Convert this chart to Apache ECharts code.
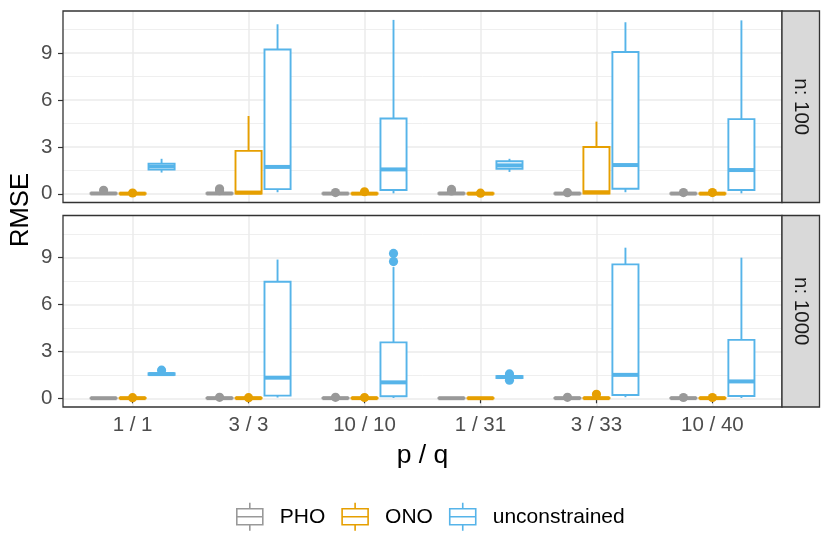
<!DOCTYPE html>
<html><head><meta charset="utf-8">
<script src="https://cdn.jsdelivr.net/npm/echarts@6/dist/echarts.min.js"></script>
<style>html,body{margin:0;padding:0;background:#fff}#chart{width:830px;height:554px}</style>
</head><body><div id="chart"></div>
<script>
// ---------- data ----------
const categories = ['1 / 1', '3 / 3', '10 / 10', '1 / 31', '3 / 33', '10 / 40'];
const methods = ['PHO', 'ONO', 'unconstrained'];
const panelLabels = ['n: 100', 'n: 1000'];
const yTicks = [0, 3, 6, 9];
const yMinorTicks = [1.5, 4.5, 7.5, 10.5];
const xTicks = [1, 2, 3, 4, 5, 6];

// box stats per category: [lower whisker, Q1, median, Q3, upper whisker]
const pho100 = [
  [0, 0.005, 0.02, 0.04, 0.09],
  [0, 0.005, 0.02, 0.04, 0.09],
  [0, 0.004, 0.015, 0.03, 0.07],
  [0, 0.005, 0.02, 0.04, 0.09],
  [0, 0.004, 0.015, 0.03, 0.07],
  [0, 0.004, 0.015, 0.03, 0.07]
];
const pho100Out = [[0.22], [0.32, 0.2], [0.08], [0.28, 0.18], [0.07], [0.08]];
const ono100 = [
  [0, 0.003, 0.01, 0.03, 0.06],
  [0, 0.02, 0.08, 2.75, 4.98],
  [0, 0.003, 0.01, 0.03, 0.06],
  [0, 0.003, 0.01, 0.03, 0.06],
  [0, 0.02, 0.1, 3.0, 4.62],
  [0, 0.003, 0.01, 0.03, 0.06]
];
const ono100Out = [[0.05], [], [0.13], [0.04], [], [0.08]];
const unc100 = [
  [1.36, 1.55, 1.75, 1.93, 2.24],
  [0.1, 0.3, 1.72, 9.24, 10.85],
  [0.03, 0.24, 1.56, 4.82, 11.13],
  [1.4, 1.6, 1.82, 2.08, 2.24],
  [0.1, 0.32, 1.84, 9.08, 10.98],
  [0.03, 0.24, 1.52, 4.78, 11.1]
];
const unc100Out = [[], [], [], [], [], []];

const pho1000 = [
  [0, 0.002, 0.006, 0.012, 0.025],
  [0, 0.003, 0.01, 0.02, 0.04],
  [0, 0.003, 0.01, 0.02, 0.04],
  [0, 0.002, 0.006, 0.012, 0.025],
  [0, 0.003, 0.01, 0.02, 0.04],
  [0, 0.003, 0.01, 0.02, 0.04]
];
const pho1000Out = [[], [0.06], [0.06], [], [0.06], [0.05]];
const ono1000 = [
  [0, 0.003, 0.01, 0.02, 0.04],
  [0, 0.003, 0.01, 0.02, 0.04],
  [0, 0.003, 0.01, 0.02, 0.04],
  [0, 0.002, 0.006, 0.012, 0.025],
  [0, 0.003, 0.01, 0.02, 0.04],
  [0, 0.003, 0.01, 0.02, 0.04]
];
const ono1000Out = [[0.04], [0.04], [0.05], [], [0.26], [0.05]];
const unc1000 = [
  [1.44, 1.5, 1.55, 1.6, 1.66],
  [0.05, 0.17, 1.32, 7.46, 8.88],
  [0.02, 0.13, 1.02, 3.58, 8.4],
  [1.24, 1.3, 1.36, 1.42, 1.48],
  [0.07, 0.21, 1.5, 8.57, 9.64],
  [0.02, 0.15, 1.08, 3.74, 9.0]
];
const unc1000Out = [[1.8], [], [8.75, 9.27], [1.56, 1.16], [], []];

// ---------- style / layout ----------
const colors = ['#999999', '#E69F00', '#56B4E9'];
const FONT = "'Liberation Sans', Arial, Helvetica, sans-serif";
const Y_MIN = -0.557, Y_MAX = 11.70;
const X_MIN = 0.4, X_MAX = 6.6;
const DODGE = 0.25, BOXW = 0.225;
const LW = 1.9;
const panelRects = [
  { left: 63, top: 11, width: 719, height: 191.5 },
  { left: 63, top: 215.5, width: 719, height: 191.5 }
];
const stats = [[pho100, ono100, unc100], [pho1000, ono1000, unc1000]];
const outs = [[pho100Out, ono100Out, unc100Out], [pho1000Out, ono1000Out, unc1000Out]];

function makeRender(m, outliers) {
  return function (params, api) {
    const xc = api.value(0) + (m - 1) * DODGE;
    const pLow = api.coord([xc, api.value(1)]);
    const pQ1 = api.coord([xc, api.value(2)]);
    const pMed = api.coord([xc, api.value(3)]);
    const pQ3 = api.coord([xc, api.value(4)]);
    const pHigh = api.coord([xc, api.value(5)]);
    const hw = api.size([BOXW / 2, 0])[0];
    const color = colors[m];
    const children = [
      { type: 'line', shape: { x1: pLow[0], y1: pLow[1], x2: pQ1[0], y2: pQ1[1] }, style: { stroke: color, lineWidth: LW } },
      { type: 'line', shape: { x1: pQ3[0], y1: pQ3[1], x2: pHigh[0], y2: pHigh[1] }, style: { stroke: color, lineWidth: LW } },
      { type: 'rect', shape: { x: pQ3[0] - hw, y: pQ3[1], width: 2 * hw, height: pQ1[1] - pQ3[1] }, style: { fill: '#ffffff', stroke: color, lineWidth: LW } },
      { type: 'line', shape: { x1: pMed[0] - hw, y1: pMed[1], x2: pMed[0] + hw, y2: pMed[1] }, style: { stroke: color, lineWidth: LW * 2.1 } }
    ];
    (outliers[params.dataIndex] || []).forEach(function (v) {
      const p = api.coord([xc, v]);
      children.push({ type: 'circle', shape: { cx: p[0], cy: p[1], r: 4.6 }, style: { fill: color } });
    });
    return { type: 'group', children: children };
  };
}

const grids = panelRects.map(r => Object.assign({ show: false }, r));

const xAxes = panelRects.map((r, gi) => ({
  type: 'value', gridIndex: gi, min: X_MIN, max: X_MAX,
  axisLine: { show: false },
  axisTick: { show: gi === 1, customValues: xTicks, length: 5, lineStyle: { color: '#333333', width: 1.2 } },
  axisLabel: {
    show: gi === 1, customValues: xTicks, margin: 8,
    color: '#4D4D4D', fontSize: 20.5, fontFamily: FONT,
    formatter: v => categories[Math.round(v) - 1]
  },
  splitLine: { show: true, lineStyle: { color: '#EBEBEB', width: 1.5 } },
  name: gi === 1 ? 'p / q' : '',
  nameLocation: 'middle', nameGap: 35,
  nameTextStyle: { color: '#000000', fontSize: 26.5, fontFamily: FONT }
}));

const yAxes = [];
panelRects.forEach((r, gi) => {
  yAxes.push({
    type: 'value', gridIndex: gi, min: Y_MIN, max: Y_MAX, interval: 3, position: 'left',
    axisLine: { show: false },
    axisTick: { show: true, customValues: yTicks, length: 5, lineStyle: { color: '#333333', width: 1.2 } },
    axisLabel: { show: true, customValues: yTicks, margin: 10.5, color: '#4D4D4D', fontSize: 20.5, fontFamily: FONT },
    splitLine: { show: true, lineStyle: { color: '#EBEBEB', width: 1.5 } }
  });
  yAxes.push({
    type: 'value', gridIndex: gi, min: Y_MIN, max: Y_MAX, position: 'left', offset: 0,
    axisLine: { show: false },
    axisTick: { show: false, customValues: yMinorTicks },
    axisLabel: { show: false, customValues: yMinorTicks },
    splitLine: { show: true, lineStyle: { color: '#EBEBEB', width: 0.8 } }
  });
});

const series = [];
stats.forEach((panel, gi) => {
  panel.forEach((arr, m) => {
    series.push({
      type: 'custom', name: methods[m],
      xAxisIndex: gi, yAxisIndex: gi * 2,
      itemStyle: { color: colors[m] },
      encode: { x: 0, y: [1, 2, 3, 4, 5] },
      data: arr.map((s, i) => [i + 1].concat(s)),
      renderItem: makeRender(m, outs[gi][m]),
      z: 5 + m
    });
  });
});

const graphics = [];
panelRects.forEach((r, gi) => {
  graphics.push({ type: 'rect', z: 100, shape: { x: r.left, y: r.top, width: r.width, height: r.height },
    style: { fill: null, stroke: '#333333', lineWidth: 1.3 } });
  graphics.push({ type: 'rect', z: 100, shape: { x: r.left + r.width, y: r.top, width: 37.5, height: r.height },
    style: { fill: '#D9D9D9', stroke: '#333333', lineWidth: 1.3 } });
  graphics.push({ type: 'text', z: 101, x: r.left + r.width + 19, y: r.top + r.height / 2, rotation: -Math.PI / 2,
    style: { text: panelLabels[gi], fill: '#1A1A1A', font: '20.5px ' + FONT, align: 'center', verticalAlign: 'middle' } });
});
graphics.push({ type: 'text', z: 101, x: 21, y: 210, rotation: Math.PI / 2,
  style: { text: 'RMSE', fill: '#000000', font: '25.6px ' + FONT, align: 'center', verticalAlign: 'middle' } });

const ICON = 'path://M13,0L13,6M0,6L26,6L26,22L0,22ZM0,14L26,14M13,22L13,28';

const option = {
  animation: false,
  textStyle: { fontFamily: FONT },
  grid: grids,
  xAxis: xAxes,
  yAxis: yAxes,
  legend: {
    left: 236, top: 502, padding: 0, itemWidth: 26, itemHeight: 28, itemGap: 16,
    selectedMode: false,
    textStyle: { fontSize: 21, color: '#000000', fontFamily: FONT, padding: [0, 0, 0, 12] },
    data: methods.map((n, m) => ({
      name: n, icon: ICON,
      itemStyle: { color: '#ffffff', borderColor: colors[m], borderWidth: 1.6 }
    }))
  },
  graphic: graphics,
  series: series
};

const chart = echarts.init(document.getElementById('chart'), null, { renderer: 'canvas' });
chart.setOption(option);
</script>
</body></html>
